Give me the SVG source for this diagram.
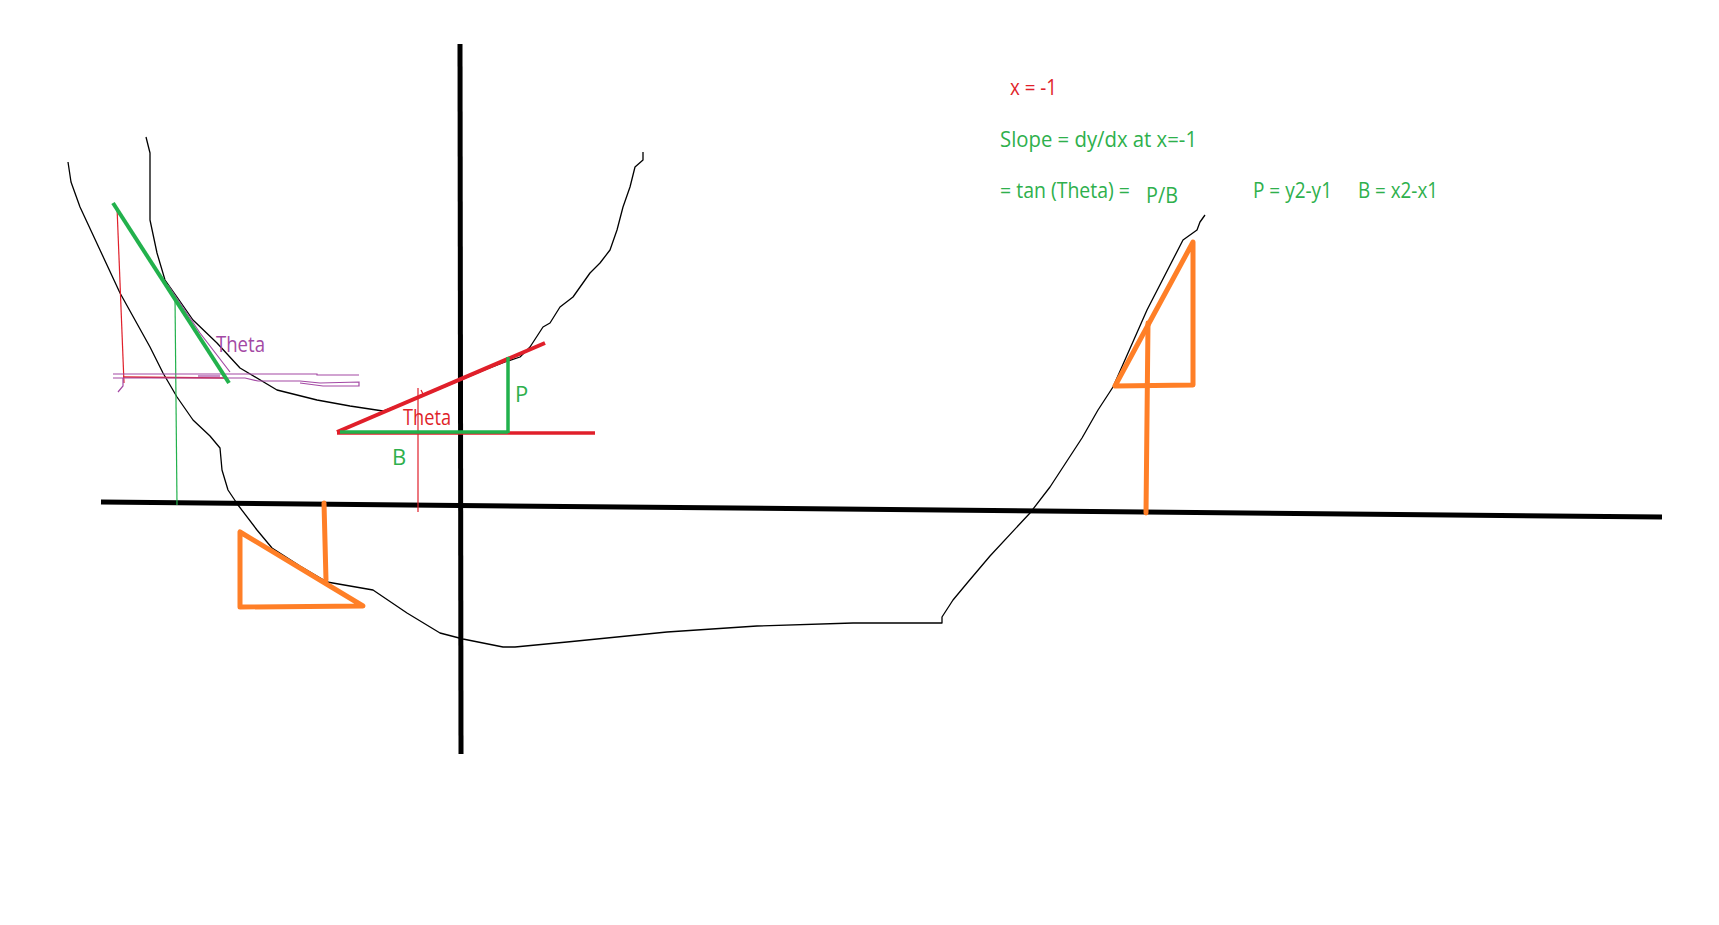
<svg xmlns="http://www.w3.org/2000/svg" width="1719" height="925" viewBox="0 0 1719 925">
<style>
.ax{stroke:#000;stroke-width:5;fill:none;stroke-linecap:butt}
.cv{stroke:#000;stroke-width:1.3;fill:none;stroke-linejoin:round}
.or{stroke:#ff7f27;stroke-width:5;fill:none;stroke-linejoin:round;stroke-linecap:round}
.rd{stroke:#e01f2a;fill:none}
.gr{stroke:#22b14c;fill:none}
.pu{stroke:#a349a4;fill:none;stroke-width:1.2}
text{font-family:"Open Sans","Liberation Sans",sans-serif;font-size:22px}
.tr{fill:#e01f2a}
.tg{fill:#2eb04c}
.tp{fill:#a349a4}
</style>
<rect width="1719" height="925" fill="#fff"/>
<g id="axes">
<line class="ax" x1="460" y1="44" x2="461" y2="754"/>
<line class="ax" x1="101" y1="502" x2="1662" y2="517"/>
</g>
<g id="curves">
<polyline class="cv" points="68,162 71,182 80,207 100,250 120,293 150,347 163,373 177,397 193,420 210,436 220,448 222,470 228,490 238,505 257,530 272,548 300,566 327,582 373,590 407,613 440,633 463,639 503,647 515,647 567,642 667,632 757,626 853,623 942,623 942,617 953,600 968,582 990,556 1030,513 1050,487 1082,438 1098,410 1113,387 1147,310 1183,240 1197,230 1200,222 1205,215"/>
<polyline class="cv" points="146,137 150,153 150,220 157,253 165,280 177,297 193,320 217,343 240,368 277,390 317,400 350,406 383,411 430,393 487,369 505,362 520,357 530,347 543,327 550,323 560,307 573,297 590,273 600,263 610,250 617,230 623,207 630,187 635,167 643,160 643,152"/>
</g>
<g id="left-tangent">
<line class="rd" x1="117" y1="207" x2="124" y2="383" stroke-width="1.2"/>
<line class="rd" x1="123" y1="377" x2="225" y2="378" stroke-width="1.5"/>
<line class="gr" x1="175" y1="297" x2="177" y2="505" stroke-width="1.2"/>
<polyline class="pu" points="113,374 317,374 317,375 359,375"/>
<polyline class="pu" points="113,378 245,378 258,381 300,381 320,383 359,382 359,386 323,386 300,383"/>
<polyline class="pu" points="123,378 123,386 118,392"/>
<line class="pu" x1="198" y1="376" x2="220" y2="376" stroke-width="2.5"/>
<polyline class="pu" points="168,285 200,333 230,372"/>
<line class="gr" x1="113" y1="203" x2="229" y2="383" stroke-width="4"/>
<text class="tp" x="216" y="352" textLength="49" lengthAdjust="spacingAndGlyphs">Theta</text>
</g>
<g id="mid-tangent">
<line class="rd" x1="418" y1="388" x2="418" y2="512" stroke-width="1.2"/>
<polyline class="rd" points="421,390 423,394 421,397" stroke-width="1.2"/>
<line class="rd" x1="337" y1="433" x2="595" y2="433" stroke-width="3.5"/>
<line class="rd" x1="337" y1="432" x2="545" y2="343" stroke-width="4"/>
<line class="gr" x1="340" y1="432" x2="508" y2="432" stroke-width="3.5"/>
<line class="gr" x1="508" y1="357" x2="508" y2="433" stroke-width="3.5"/>
<text class="tr" x="403" y="425" textLength="48" lengthAdjust="spacingAndGlyphs">Theta</text>
<text class="tg" x="392" y="465">B</text>
<text class="tg" x="515" y="402">P</text>
</g>
<g id="orange-marks">
<polygon class="or" points="240,532 240,607 363,606"/>
<line class="or" x1="324" y1="503" x2="326" y2="580"/>
<polyline class="or" points="1115,386 1193,242 1193,385 1115,386"/>
<line class="or" x1="1148" y1="323" x2="1146" y2="513"/>
</g>
<g id="notes">
<text class="tr" x="1010" y="95" textLength="47" lengthAdjust="spacingAndGlyphs">x = -1</text>
<text class="tg" x="1000" y="147" textLength="197" lengthAdjust="spacingAndGlyphs">Slope = dy/dx at x=-1</text>
<text class="tg" x="1000" y="198" font-size="20" textLength="130" lengthAdjust="spacingAndGlyphs">= tan (Theta) =</text>
<text class="tg" x="1146" y="203" font-size="22" textLength="32" lengthAdjust="spacingAndGlyphs">P/B</text>
<text class="tg" x="1253" y="198" textLength="79" lengthAdjust="spacingAndGlyphs">P = y2-y1</text>
<text class="tg" x="1358" y="198" textLength="80" lengthAdjust="spacingAndGlyphs">B = x2-x1</text>
</g>
</svg>
